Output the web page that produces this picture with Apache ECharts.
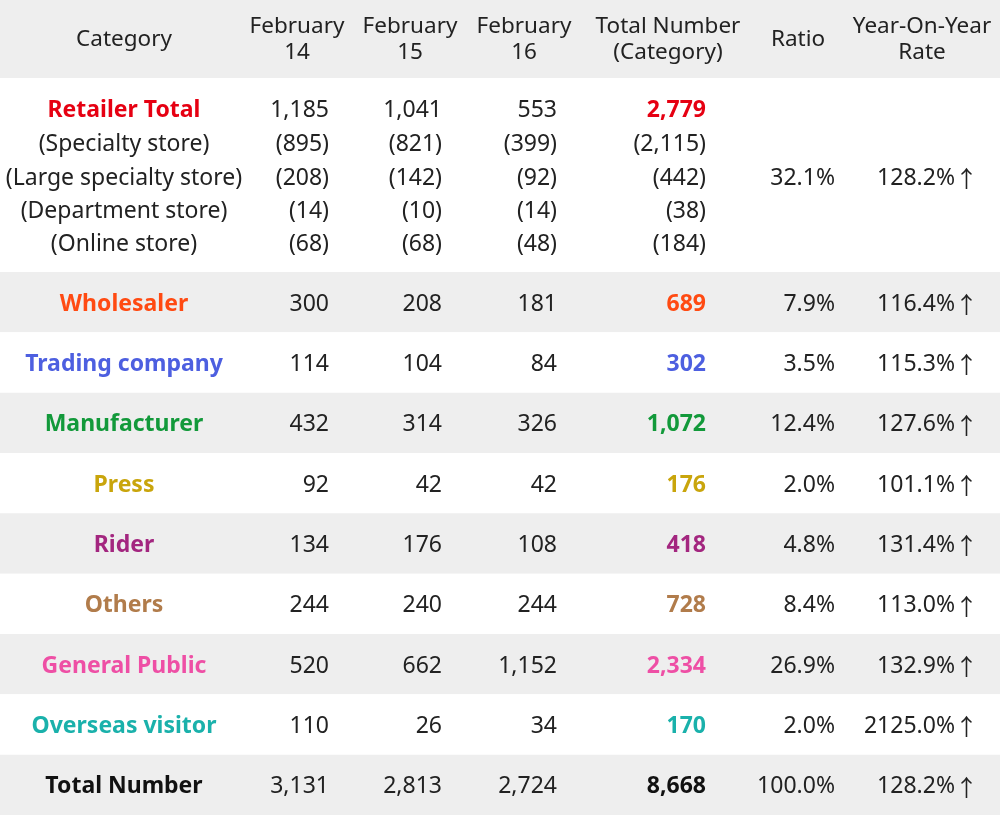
<!DOCTYPE html>
<html>
<head>
<meta charset="utf-8">
<script src="https://cdn.jsdelivr.net/npm/echarts@6/dist/echarts.min.js"></script>
<style>
html,body{margin:0;padding:0;background:#fff;}
#chart{width:1000px;height:815px;}
</style>
</head>
<body>
<div id="chart"></div>
<script>
const headers = ['Category', 'February\n14', 'February\n15', 'February\n16', 'Total Number\n(Category)', 'Ratio', 'Year-On-Year\nRate'];
const categories = ['Retailer Total', 'Wholesaler', 'Trading company', 'Manufacturer', 'Press', 'Rider', 'Others', 'General Public', 'Overseas visitor', 'Total Number'];
const categoryColors = ['#e60012', '#ff4a12', '#4d5fe0', '#12993a', '#c9a50c', '#a3267f', '#b17c4b', '#ee4fa5', '#1ab1ab', '#111111'];
const feb14 = [1185, 300, 114, 432, 92, 134, 244, 520, 110, 3131];
const feb15 = [1041, 208, 104, 314, 42, 176, 240, 662, 26, 2813];
const feb16 = [553, 181, 84, 326, 42, 108, 244, 1152, 34, 2724];
const totals = [2779, 689, 302, 1072, 176, 418, 728, 2334, 170, 8668];
const ratios = [32.1, 7.9, 3.5, 12.4, 2.0, 4.8, 8.4, 26.9, 2.0, 100.0];
const yoyRates = [128.2, 116.4, 115.3, 127.6, 101.1, 131.4, 113.0, 132.9, 2125.0, 128.2];
const retailSubLabels = ['(Specialty store)', '(Large specialty store)', '(Department store)', '(Online store)'];
const retailSub14 = [895, 208, 14, 68];
const retailSub15 = [821, 142, 10, 68];
const retailSub16 = [399, 92, 14, 48];
const retailSubTotal = [2115, 442, 38, 184];

// layout (pixels in a 1000 x 815 value space)
const FONT = '"Noto Sans", "Open Sans", sans-serif';
const FS = 23;
const DY = 2;
const HEADER_H = 78;
const RETAIL_H = 194;
const ROW_H = (815 - HEADER_H - RETAIL_H) / (categories.length - 1);
const CAT_X = 124;
const HEADER_X = [124, 297, 410, 524, 668, 798, 922];
const COL_RIGHT = [329, 442, 557, 706, 835, 978];
const fmt = v => v.toLocaleString('en-US');

function rowBounds(i) {
  if (i === -1) return [0, HEADER_H];
  if (i === 0) return [HEADER_H, HEADER_H + RETAIL_H];
  const y0 = HEADER_H + RETAIL_H + (i - 1) * ROW_H;
  return [y0, y0 + ROW_H];
}

const chart = echarts.init(document.getElementById('chart'), null, {renderer: 'canvas'});

function txt(api, x, y, text, opt) {
  const p = api.coord([x, y + DY]);
  return {
    type: 'text',
    style: Object.assign({
      text: text, x: p[0], y: p[1],
      fill: '#222', fontSize: FS, fontFamily: FONT, fontWeight: 'normal',
      align: 'right', verticalAlign: 'middle'
    }, opt || {})
  };
}

function yoyText(api, y, v) {
  return txt(api, COL_RIGHT[5], y, '{v|' + v.toFixed(1) + '%}{a|↑}', {
    rich: {
      v: {fontSize: FS, fontFamily: FONT, fill: '#222'},
      a: {fontSize: FS, fontFamily: '"Noto Sans CJK JP", sans-serif', fill: '#222'}
    }
  });
}

function renderItem(params, api) {
  const i = api.value(0);
  const b = rowBounds(i);
  const tl = api.coord([0, b[0]]);
  const br = api.coord([1000, b[1]]);
  const children = [];
  const grey = (i === -1) || (i % 2 === 1);
  children.push({type: 'rect', shape: {x: tl[0], y: tl[1], width: br[0] - tl[0], height: br[1] - tl[1]},
    style: {fill: grey ? '#eeeeee' : '#ffffff'}});
  if (i === -1) {
    headers.forEach((h, k) => {
      children.push(txt(api, HEADER_X[k], (b[0] + b[1]) / 2 - 1, h, {align: 'center', fontSize: 22.5, lineHeight: 26, fill: '#222'}));
    });
    return {type: 'group', children: children};
  }
  if (i === 0) {
    const ys = [108, 142, 176, 209, 242];
    children.push(txt(api, CAT_X, ys[0], categories[0], {align: 'center', fontWeight: 'bold', fill: categoryColors[0]}));
    children.push(txt(api, COL_RIGHT[0], ys[0], fmt(feb14[0])));
    children.push(txt(api, COL_RIGHT[1], ys[0], fmt(feb15[0])));
    children.push(txt(api, COL_RIGHT[2], ys[0], fmt(feb16[0])));
    children.push(txt(api, COL_RIGHT[3], ys[0], fmt(totals[0]), {fontWeight: 'bold', fill: categoryColors[0]}));
    retailSubLabels.forEach((lab, k) => {
      const y = ys[k + 1];
      children.push(txt(api, CAT_X, y, lab, {align: 'center'}));
      children.push(txt(api, COL_RIGHT[0], y, '(' + fmt(retailSub14[k]) + ')'));
      children.push(txt(api, COL_RIGHT[1], y, '(' + fmt(retailSub15[k]) + ')'));
      children.push(txt(api, COL_RIGHT[2], y, '(' + fmt(retailSub16[k]) + ')'));
      children.push(txt(api, COL_RIGHT[3], y, '(' + fmt(retailSubTotal[k]) + ')'));
    });
    children.push(txt(api, COL_RIGHT[4], ys[2], ratios[0].toFixed(1) + '%'));
    children.push(yoyText(api, ys[2], yoyRates[0]));
    return {type: 'group', children: children};
  }
  const yc = (b[0] + b[1]) / 2;
  const c = categoryColors[i];
  children.push(txt(api, CAT_X, yc, categories[i], {align: 'center', fontWeight: 'bold', fill: c}));
  children.push(txt(api, COL_RIGHT[0], yc, fmt(feb14[i])));
  children.push(txt(api, COL_RIGHT[1], yc, fmt(feb15[i])));
  children.push(txt(api, COL_RIGHT[2], yc, fmt(feb16[i])));
  children.push(txt(api, COL_RIGHT[3], yc, fmt(totals[i]), {fontWeight: 'bold', fill: c}));
  children.push(txt(api, COL_RIGHT[4], yc, ratios[i].toFixed(1) + '%'));
  children.push(yoyText(api, yc, yoyRates[i]));
  return {type: 'group', children: children};
}

const rowData = [[-1]].concat(categories.map((c, i) => [i]));

chart.setOption({
  animation: false,
  backgroundColor: '#ffffff',
  grid: {left: 0, right: 0, top: 0, bottom: 0},
  xAxis: {type: 'value', min: 0, max: 1000, show: false},
  yAxis: {type: 'value', min: 0, max: 815, inverse: true, show: false},
  series: [{
    type: 'custom',
    renderItem: renderItem,
    data: rowData,
    encode: {x: -1, y: -1},
    clip: false
  }]
});
</script>
</body>
</html>
